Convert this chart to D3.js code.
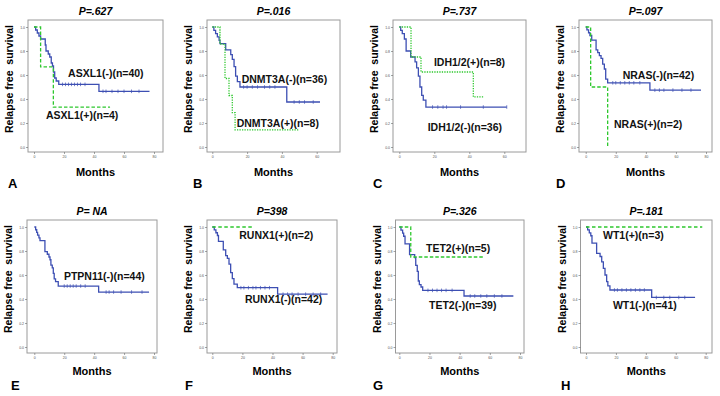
<!DOCTYPE html>
<html>
<head>
<meta charset="utf-8">
<script src="https://cdn.jsdelivr.net/npm/d3@7"></script>
<style>
  body { margin: 0; background: #fff; }
  svg { display: block; }
</style>
</head>
<body>
<svg id="chart" width="720" height="396"></svg>
<script>
// Kaplan-Meier step points [months, survival], last point = end of follow-up
const asxl1Neg = [[0,1],[1.1,0.975],[2.2,0.95],[3.3,0.925],[4.4,0.9],[7.5,0.85],[8,0.8],[9.5,0.775],[10.5,0.75],[11.5,0.7],[12.3,0.675],[13,0.625],[13.8,0.575],[14.8,0.55],[16.5,0.522],[43.3,0.464],[77,0.464]]
const asxl1NegCens = [19,21,23,25,27,29,31,34,46,48,52,56,60,65,70]
const asxl1Pos = [[0,1],[4.4,0.667],[12.9,0.333],[50.7,0.333]]

const dnmt3aNeg = [[0,1],[0.9,0.972],[1.9,0.944],[2.9,0.917],[3.9,0.889],[4.4,0.861],[7.7,0.81],[10.6,0.77],[11.5,0.73],[12.5,0.67],[13.4,0.59],[14.4,0.545],[15.9,0.5],[42.8,0.375],[61.9,0.375]]
const dnmt3aNegCens = [18,20,23,26,30,33,36,47,50,53,58]
const dnmt3aPos = [[0,1],[4.4,0.857],[7.3,0.571],[9.6,0.429],[11.5,0.286],[13.1,0.143],[49.4,0.143]]

const idhNeg = [[0,1],[0.8,0.972],[1.7,0.944],[2.9,0.9],[3.9,0.8],[6.5,0.75],[9.0,0.71],[9.9,0.66],[10.9,0.59],[11.8,0.5],[12.8,0.43],[13.7,0.39],[15.2,0.333],[61.4,0.333]]
const idhNegCens = [19,22,25,27,35,48,61.4]
const idhPos = [[0,1],[6.7,0.75],[12.4,0.625],[42.3,0.417],[48.6,0.417]]

const nrasNeg = [[0,1],[0.8,0.976],[1.9,0.952],[2.8,0.929],[4.0,0.89],[6.9,0.81],[8.0,0.786],[9.1,0.762],[10.2,0.738],[11.3,0.69],[12.4,0.65],[13.3,0.565],[14.6,0.535],[42.7,0.474],[76.7,0.474]]
const nrasNegCens = [18,20,23,26,29,32,36,46,49,52,58,64,70]
const nrasPos = [[0,1],[3.3,0.5],[14.6,0]]

const ptpnNeg = [[0,1],[0.9,0.977],[1.6,0.955],[2.2,0.932],[3.1,0.909],[3.8,0.886],[7.1,0.795],[8.7,0.773],[9.8,0.75],[10.5,0.727],[11.1,0.682],[12.0,0.659],[12.7,0.614],[13.3,0.568],[14.2,0.545],[16.0,0.508],[43,0.458],[76.7,0.458]]
const ptpnNegCens = [20,22,24,26,28,31,34,48,50,53,58,65,72]

const runxNeg = [[0,1],[1.3,0.976],[2.4,0.952],[3.4,0.929],[4.1,0.881],[7.3,0.81],[8.9,0.762],[10,0.738],[11.1,0.69],[12.2,0.62],[13.3,0.57],[14.4,0.524],[16.6,0.494],[43.4,0.44],[76.6,0.44]]
const runxNegCens = [19,21,24,27,29,32,35,38,47,50,53,57,62,67,72]
const runxPos = [[0,1],[27.9,1]]

const tetNeg = [[0,1],[1.1,0.974],[2.2,0.949],[2.9,0.923],[3.8,0.86],[6.8,0.77],[10.2,0.745],[10.9,0.68],[11.9,0.63],[12.6,0.55],[13.3,0.52],[14.4,0.5],[15.5,0.472],[42.9,0.425],[75.6,0.425]]
const tetNegCens = [19,22,25,28,31,35,47,50,54,58,63,68]
const tetPos = [[0,1],[7.6,0.75],[55.7,0.75]]

const wt1Neg = [[0,1],[1.1,0.976],[2.2,0.951],[3.2,0.927],[4.0,0.866],[7.1,0.78],[9.4,0.754],[10.5,0.71],[11.6,0.656],[12.7,0.6],[13.8,0.545],[14.6,0.51],[16.0,0.475],[43.9,0.413],[72.9,0.413]]
const wt1NegCens = [19,21,24,27,30,33,36,39,47,52,56,62,66]
const wt1Pos = [[0,1],[77.7,1]]

const yTicks = [0, 0.2, 0.4, 0.6, 0.8, 1.0]

const blue = '#3d4fb3'
const green = '#2ec82e'
const font = '"Liberation Sans", Arial, sans-serif'

// layout of the two rows of panels
const rows = [
    { top: 20, bottom: 152, y1: 27, y0: 147, titleY: 14.5, monthsY: 176, letterY: 188 },
    { top: 220, bottom: 353, y1: 227, y0: 347, titleY: 214.5, monthsY: 375, letterY: 390 }
]

const panels = [
    { letter: 'A', lx: 8, title: 'P=.627', row: 0, box: [28, 163], xr: [34, 154], xMax: 80,
      curves: [{ pts: asxl1Neg, cens: asxl1NegCens, color: blue }, { pts: asxl1Pos, color: green, dash: '3.5,2' }],
      labels: [['ASXL1(-)(n=40)', 22.7, 0.583], ['ASXL1(+)(n=4)', 8, 0.233]] },
    { letter: 'B', lx: 193, title: 'P=.016', row: 0, box: [207, 340], xr: [212.3, 316.7], xMax: 60,
      curves: [{ pts: dnmt3aNeg, cens: dnmt3aNegCens, color: blue }, { pts: dnmt3aPos, color: green, dash: '1.3,1.2' }],
      labels: [['DNMT3A(-)(n=36)', 16.9, 0.533], ['DNMT3A(+)(n=8)', 14.0, 0.167]] },
    { letter: 'C', lx: 373, title: 'P=.737', row: 0, box: [393, 526], xr: [399.3, 504.3], xMax: 60,
      curves: [{ pts: idhNeg, cens: idhNegCens, color: blue }, { pts: idhPos, color: green, dash: '1.3,1.2' }],
      labels: [['IDH1/2(+)(n=8)', 19.8, 0.675], ['IDH1/2(-)(n=36)', 16.2, 0.133]] },
    { letter: 'D', lx: 556, title: 'P=.097', row: 0, box: [579, 712], xr: [585.7, 706], xMax: 80,
      curves: [{ pts: nrasNeg, cens: nrasNegCens, color: blue }, { pts: nrasPos, color: green, dash: '3.5,2' }],
      labels: [['NRAS(-)(n=42)', 24.6, 0.566], ['NRAS(+)(n=2)', 18.8, 0.156]] },
    { letter: 'E', lx: 11, title: 'P= NA', row: 1, box: [27, 157], xr: [34.3, 154], xMax: 80,
      curves: [{ pts: ptpnNeg, cens: ptpnNegCens, color: blue }],
      labels: [['PTPN11(-)(n=44)', 19.8, 0.558]] },
    { letter: 'F', lx: 185, title: 'P=398', row: 1, box: [207, 337], xr: [212.3, 332.7], xMax: 80,
      curves: [{ pts: runxNeg, cens: runxNegCens, color: blue }, { pts: runxPos, color: green, dash: '3.5,2.5' }],
      labels: [['RUNX1(+)(n=2)', 17.9, 0.904], ['RUNX1(-)(n=42)', 21.7, 0.363]] },
    { letter: 'G', lx: 373, title: 'P=.326', row: 1, box: [395.5, 524], xr: [399.3, 520], xMax: 80,
      curves: [{ pts: tetNeg, cens: tetNegCens, color: blue }, { pts: tetPos, color: green, dash: '3.5,2' }],
      labels: [['TET2(+)(n=5)', 17.7, 0.79], ['TET2(-)(n=39)', 19.7, 0.317]] },
    { letter: 'H', lx: 561, title: 'P=.181', row: 1, box: [580.5, 712], xr: [586, 705.7], xMax: 80,
      curves: [{ pts: wt1Neg, cens: wt1NegCens, color: blue }, { pts: wt1Pos, color: green, dash: '3.5,2.5' }],
      labels: [['WT1(+)(n=3)', 11.4, 0.904], ['WT1(-)(n=41)', 18.0, 0.317]] }
]

const svg = d3.select('#chart')

// survival value of a step curve at a given time
const survAt = (pts, t) => {
    let s = pts[0][1]
    pts.forEach(p => { if (p[0] <= t) s = p[1] })
    return s
}

panels.forEach(p => {
    const r = rows[p.row]
    const x = d3.scaleLinear().domain([0, p.xMax]).range(p.xr)
    const y = d3.scaleLinear().domain([0, 1]).range([r.y0, r.y1])
    const g = svg.append('g')
    const cx = (p.box[0] + p.box[1]) / 2

    // plot frame
    g.append('rect')
        .attr('x', p.box[0]).attr('y', r.top)
        .attr('width', p.box[1] - p.box[0]).attr('height', r.bottom - r.top)
        .attr('fill', '#fff').attr('stroke', '#9a9a9a').attr('stroke-width', 1)

    // y axis ticks
    const ya = g.append('g')
        .attr('transform', `translate(${p.box[0]},0)`)
        .call(d3.axisLeft(y).tickValues(yTicks).tickFormat(d3.format('.1f')).tickSize(2).tickPadding(1))
    ya.select('.domain').remove()
    ya.selectAll('line').attr('stroke', '#666').attr('stroke-width', 0.6)
    ya.selectAll('text').style('font-size', '3.5px').style('font-family', font).attr('fill', '#555')

    // x axis ticks
    const xa = g.append('g')
        .attr('transform', `translate(0,${r.bottom})`)
        .call(d3.axisBottom(x).tickValues(d3.range(0, p.xMax + 1, 20)).tickSize(2).tickPadding(1.5))
    xa.select('.domain').remove()
    xa.selectAll('line').attr('stroke', '#666').attr('stroke-width', 0.6)
    xa.selectAll('text').style('font-size', '3.5px').style('font-family', font).attr('fill', '#555')

    const line = d3.line()
        .x(d => x(d[0]))
        .y(d => y(d[1]))
        .curve(d3.curveStepAfter)

    p.curves.forEach(c => {
        g.append('path')
            .datum(c.pts)
            .attr('d', line)
            .attr('fill', 'none')
            .attr('stroke', c.color)
            .attr('stroke-width', 1.3)
            .attr('stroke-dasharray', c.dash || null)
        if (c.cens) {
            g.selectAll(null)
                .data(c.cens)
                .join('line')
                .attr('x1', d => x(d)).attr('x2', d => x(d))
                .attr('y1', d => y(survAt(c.pts, d)) - 1.8)
                .attr('y2', d => y(survAt(c.pts, d)) + 1.8)
                .attr('stroke', c.color).attr('stroke-width', 0.7)
        }
    })

    // group labels
    p.labels.forEach(l => {
        g.append('text')
            .attr('x', x(l[1])).attr('y', y(l[2]))
            .style('font-family', font).style('font-size', '10.5px').style('font-weight', 'bold')
            .attr('fill', '#111')
            .text(l[0])
    })

    g.append('text')
        .attr('x', cx).attr('y', r.titleY)
        .attr('text-anchor', 'middle')
        .style('font-family', font).style('font-size', '10.5px')
        .style('font-weight', 'bold').style('font-style', 'italic')
        .text(p.title)

    g.append('text')
        .attr('x', cx).attr('y', r.monthsY)
        .attr('text-anchor', 'middle')
        .style('font-family', font).style('font-size', '11px').style('font-weight', 'bold')
        .text('Months')

    g.append('text')
        .attr('transform', `translate(${p.box[0] - 19}, ${r.top + 59}) rotate(-90)`)
        .attr('text-anchor', 'middle')
        .attr('dominant-baseline', 'central')
        .style('font-family', font).style('font-size', '10.5px').style('font-weight', 'bold')
        .style('white-space', 'pre')
        .text('Relapse free  survival')

    g.append('text')
        .attr('x', p.lx).attr('y', r.letterY)
        .style('font-family', font).style('font-size', '13px').style('font-weight', 'bold')
        .text(p.letter)
})
</script>
</body>
</html>
